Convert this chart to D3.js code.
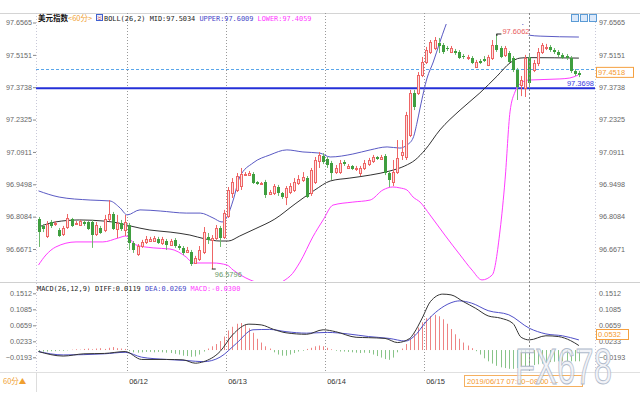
<!DOCTYPE html>
<html><head><meta charset="utf-8">
<script src="https://cdn.jsdelivr.net/npm/d3@7/dist/d3.min.js"></script>
<style>
html,body{margin:0;padding:0;background:#fff;}
svg{display:block;}
.ax text{font-family:"Liberation Sans",Arial,sans-serif;font-size:7.2px;fill:#666;}
.ax path{display:none;}
.ax line{stroke:#888;}
</style></head><body>
<svg id="chart" width="640" height="400"></svg>
<script>
// ---------- data ----------
const dates = ["06/12","06/13","06/14","06/15"];
const dayBreaks = [21.5,45.5,69.5,93.5];
const priceTicks = [96.6671,96.8084,96.9498,97.0911,97.2325,97.3738,97.5151,97.6565];
const macdTicks = [-0.0193,0.0233,0.0659,0.1085,0.1512];

const opens = [96.798,96.768,96.724,96.785,96.776,96.750,96.733,96.763,96.798,96.776,
96.772,96.785,96.785,96.785,96.733,96.759,96.750,96.798,96.820,96.755,
96.781,96.750,96.772,96.693,96.645,96.680,96.698,96.702,96.702,96.711,
96.693,96.702,96.685,96.707,96.680,96.672,96.654,96.654,96.606,96.623,
96.654,96.720,96.707,96.715,96.759,96.720,96.811,96.912,96.925,96.942,
96.990,96.990,96.995,96.960,96.951,96.960,96.907,96.912,96.938,96.912,
96.894,96.916,96.925,96.955,96.969,96.977,96.912,96.960,97.052,97.073,
97.060,97.043,97.003,97.003,97.047,97.021,97.030,97.017,96.999,97.021,
97.038,97.052,97.069,97.060,97.073,96.999,96.960,97.003,97.078,97.069,
97.165,97.349,97.349,97.427,97.484,97.528,97.545,97.567,97.558,97.545,
97.528,97.532,97.528,97.510,97.501,97.501,97.462,97.488,97.497,97.471,
97.501,97.558,97.545,97.515,97.523,97.501,97.449,97.384,97.370,97.506,
97.449,97.480,97.528,97.545,97.550,97.536,97.528,97.515,97.510,97.501,97.445,97.436];
const highs = [96.807,96.776,96.789,96.794,96.789,96.759,96.768,96.820,96.803,96.789,
96.794,96.794,96.789,96.794,96.785,96.768,96.816,96.881,96.829,96.816,
96.794,96.816,96.781,96.702,96.689,96.707,96.724,96.720,96.724,96.720,
96.720,96.711,96.711,96.715,96.689,96.680,96.676,96.663,96.637,96.680,
96.763,96.737,96.728,96.772,96.768,96.838,96.938,96.977,96.999,97.021,
97.003,97.008,97.003,96.964,96.960,96.969,96.925,96.951,96.947,96.916,
96.942,96.955,96.977,96.990,97.003,96.986,97.021,97.069,97.091,97.086,
97.069,97.052,97.034,97.056,97.056,97.038,97.034,97.030,97.030,97.056,
97.065,97.078,97.073,97.078,97.082,97.008,97.056,97.143,97.143,97.266,
97.362,97.362,97.440,97.506,97.550,97.580,97.593,97.589,97.567,97.554,
97.554,97.541,97.536,97.519,97.515,97.510,97.493,97.497,97.510,97.515,
97.580,97.6062,97.554,97.554,97.532,97.510,97.458,97.423,97.515,97.515,
97.493,97.545,97.567,97.563,97.558,97.545,97.536,97.523,97.519,97.510,97.453,97.445];
const lows = [96.676,96.741,96.715,96.759,96.768,96.720,96.724,96.755,96.763,96.772,
96.768,96.768,96.750,96.672,96.724,96.733,96.741,96.789,96.750,96.715,
96.746,96.724,96.663,96.650,96.637,96.672,96.689,96.698,96.698,96.689,
96.685,96.663,96.680,96.672,96.663,96.641,96.650,96.593,96.602,96.615,
96.645,96.689,96.5796,96.707,96.676,96.711,96.803,96.890,96.916,96.925,
96.986,96.986,96.951,96.947,96.947,96.890,96.903,96.903,96.899,96.886,
96.859,96.907,96.916,96.947,96.960,96.890,96.899,96.951,97.021,97.038,
97.021,96.969,96.995,96.995,97.030,97.017,97.012,97.008,96.986,97.012,
97.030,97.043,97.056,97.056,96.990,96.938,96.942,96.995,97.056,97.056,
97.156,97.274,97.340,97.418,97.475,97.519,97.536,97.523,97.519,97.532,
97.523,97.515,97.497,97.497,97.493,97.475,97.458,97.475,97.484,97.466,
97.493,97.528,97.501,97.506,97.480,97.440,97.318,97.335,97.331,97.370,
97.440,97.466,97.519,97.536,97.528,97.519,97.506,97.497,97.493,97.436,97.423,97.418];
const closes = [96.741,96.755,96.776,96.768,96.781,96.724,96.759,96.803,96.768,96.781,
96.789,96.776,96.755,96.728,96.772,96.737,96.798,96.820,96.755,96.781,
96.755,96.785,96.693,96.663,96.680,96.698,96.711,96.711,96.715,96.693,
96.711,96.685,96.702,96.680,96.672,96.650,96.663,96.602,96.628,96.663,
96.741,96.707,96.715,96.759,96.715,96.824,96.925,96.960,96.986,96.995,
96.995,96.999,96.955,96.951,96.955,96.903,96.916,96.942,96.912,96.894,
96.934,96.942,96.960,96.973,96.982,96.894,97.012,97.056,97.078,97.047,
97.034,96.999,97.021,97.043,97.038,97.030,97.017,97.021,97.021,97.043,
97.056,97.069,97.060,97.069,96.999,96.969,97.003,97.065,97.091,97.252,
97.349,97.287,97.427,97.484,97.536,97.571,97.580,97.554,97.528,97.541,
97.545,97.523,97.501,97.506,97.506,97.480,97.484,97.480,97.488,97.506,
97.558,97.536,97.506,97.545,97.484,97.449,97.375,97.405,97.501,97.392,
97.480,97.528,97.558,97.550,97.536,97.528,97.515,97.501,97.501,97.445,97.432,97.427];

// Bollinger bands, read as [candle index, value]
const upperBand = [[0,96.921],[5,96.894],[12.5,96.881],[17.3,96.877],[19.8,96.846],[21.5,96.816],[24.6,96.838],[29.5,96.833],[35.8,96.824],[39.2,96.824],[42.3,96.803],[44.5,96.785],[45.7,96.807],[47.2,96.881],[48.8,96.982],[52,97.043],[56.1,97.078],[60.2,97.100],[64.1,97.091],[68.2,97.086],[70.7,97.069],[76.2,97.082],[80.4,97.100],[84.5,97.113],[87.6,97.108],[89.3,97.121],[90.8,97.152],[91.8,97.222],[92.5,97.283],[94.2,97.414],[95.7,97.484],[97.3,97.571],[98.5,97.633],[100,97.700],[104,97.760],[110,97.780],[114,97.760],[116.5,97.700],[118,97.619],[119,97.601],[121.6,97.597],[131,97.593]];
const midBand = [[0,96.763],[4,96.785],[10,96.794],[16,96.789],[19.3,96.781],[22.2,96.768],[27,96.750],[31.9,96.741],[36.7,96.728],[40.4,96.711],[44,96.702],[46,96.702],[48.8,96.724],[52.5,96.755],[57.3,96.798],[62.2,96.864],[67,96.925],[70.7,96.964],[75.5,96.977],[80.4,96.990],[85.2,97.008],[88.8,97.030],[91.3,97.056],[93.7,97.100],[97.3,97.187],[102.2,97.274],[107,97.349],[111.2,97.423],[114.3,97.480],[116.7,97.501],[119,97.503],[131,97.501]];
const lowerBand = [[0,96.597],[1.8,96.641],[4.2,96.676],[9.1,96.698],[15.6,96.698],[19.3,96.715],[21.2,96.724],[23.6,96.685],[27.8,96.672],[31.9,96.667],[35.8,96.632],[37.5,96.606],[42.3,96.606],[45.7,96.597],[47.2,96.575],[51.3,96.532],[56.1,96.510],[61,96.549],[63.4,96.610],[66.5,96.720],[69,96.794],[71.4,96.859],[76.2,96.872],[80.4,96.881],[83.5,96.925],[85.9,96.938],[87.6,96.934],[89.3,96.925],[90.8,96.894],[92.5,96.872],[94.9,96.816],[98.5,96.728],[102.2,96.641],[105.1,96.575],[107.5,96.532],[110,96.554],[111.9,96.750],[113.1,96.969],[114.3,97.266],[115.5,97.353],[116.7,97.388],[118.7,97.405],[126.4,97.410],[128.8,97.414],[130.8,97.427]];

// MACD
const diffLine = [[0,-0.004],[6,-0.016],[11,-0.010],[16,-0.009],[21,-0.004],[25,-0.025],[31,-0.025],[35,-0.026],[38,-0.035],[40,-0.031],[44,-0.004],[47,0.040],[51,0.069],[54,0.067],[57,0.055],[60,0.046],[65,0.042],[69,0.054],[72,0.049],[77,0.034],[80,0.033],[84,0.031],[87,0.020],[90,0.031],[91,0.045],[93,0.085],[95,0.129],[98,0.149],[100,0.147],[103,0.129],[106,0.111],[109,0.091],[112,0.085],[115,0.071],[117,0.034],[119,0.027],[123,0.038],[126,0.036],[129,0.025],[131,0.012]];
const deaLine = [[0,-0.004],[6,-0.013],[16,-0.010],[21,-0.006],[25,-0.019],[31,-0.025],[36,-0.028],[40,-0.031],[44,-0.019],[48,0.018],[52,0.054],[56,0.055],[60,0.049],[65,0.045],[70,0.047],[75,0.043],[80,0.036],[85,0.031],[89,0.024],[91,0.036],[94,0.076],[97,0.107],[100,0.126],[102,0.131],[105,0.125],[109,0.105],[114,0.094],[119,0.058],[123,0.043],[127,0.038],[131,0.027]];
const macdHist = [-0.003,-0.004,-0.004,-0.003,-0.003,-0.002,
-0.002,-0.001,0.001,0.002,0.001,
0.003,0.004,0.002,0.004,0.005,0.003,
0.006,0.008,0.005,0.004,0.003,
-0.003,-0.006,-0.007,
-0.006,-0.005,-0.005,-0.006,-0.005,-0.006,
-0.007,-0.008,-0.010,-0.012,-0.015,-0.016,
-0.018,-0.017,-0.012,-0.004,
0.004,0.010,0.016,0.024,
0.036,0.052,0.062,0.070,0.072,0.068,
0.058,0.046,0.030,0.020,0.010,0.004,
-0.006,-0.012,-0.015,-0.015,-0.012,-0.008,
-0.004,-0.002,0.003,0.006,
0.010,0.012,0.010,0.006,
0.002,-0.002,-0.004,-0.004,-0.005,
-0.006,-0.007,-0.008,-0.007,-0.008,
-0.012,-0.016,-0.020,-0.024,-0.026,-0.020,
-0.006,0.004,0.016,0.030,
0.044,0.060,0.074,0.085,
0.090,0.094,0.090,0.082,
0.070,0.056,0.042,0.030,
0.020,0.012,0.005,-0.003,
-0.012,-0.022,-0.030,-0.036,-0.042,-0.046,
-0.048,-0.050,-0.050,-0.048,-0.046,-0.044,
-0.042,-0.040,-0.038,-0.036,-0.034,-0.032,
-0.031,-0.030,-0.030,-0.030,-0.030,-0.030,-0.030];

const crossIndex = 119, crossPrice = 97.4518, hLinePrice = 97.3698;
const highMark = {i:111, v:97.6062}, lowMark = {i:42, v:96.5796};

// ---------- layout ----------
const svg = d3.select("#chart");
const L = 36, R = 595, MT = 13, MB = 281, PT = 283, PB = 372, CLIPTOP = 24;
const x = d3.scaleLinear().domain([0,131]).range([38.5,578.9]);
const y = d3.scaleLinear().domain([96.6671,97.6565]).range([249,22.5]);
const ym = d3.scaleLinear().domain([-0.0193,0.1512]).range([357.3,293.3]);
const px = v => Math.round(v)+0.5;

const UPC = "#ee6565", UPF = "#fde0e0", DNC = "#3f9e3f";
const mono = "'DejaVu Sans Mono',monospace";
const sans = "'Liberation Sans',Arial,sans-serif";
const cjk = "'Noto Sans CJK SC','Noto Sans',sans-serif";

const defs = svg.append("defs");
defs.append("clipPath").attr("id","cm").append("rect").attr("x",L).attr("y",CLIPTOP).attr("width",R-L).attr("height",MB-CLIPTOP);
defs.append("clipPath").attr("id","cp").append("rect").attr("x",L).attr("y",PT).attr("width",R-L).attr("height",PB-PT);

// frame lines
svg.append("line").attr("x1",0).attr("x2",640).attr("y1",13.5).attr("y2",13.5).attr("stroke","#d4d4d4");
svg.append("line").attr("x1",0).attr("x2",640).attr("y1",282.5).attr("y2",282.5).attr("stroke","#d0d0d0");
svg.append("line").attr("x1",0).attr("x2",640).attr("y1",372.5).attr("y2",372.5).attr("stroke","#e0e0e0");
[L,R].forEach(v=>svg.append("line").attr("x1",px(v)).attr("x2",px(v)).attr("y1",MT).attr("y2",PB)
  .attr("stroke","#c8c8d8").attr("stroke-dasharray","1,2"));
svg.append("line").attr("x1",px(L)).attr("x2",px(L)).attr("y1",PB).attr("y2",392).attr("stroke","#ddd");

// day separators
dayBreaks.forEach((b,k)=>{
  svg.append("line").attr("x1",px(x(b))).attr("x2",px(x(b))).attr("y1",MT).attr("y2",PB)
    .attr("stroke","#999").attr("stroke-dasharray","1,2");
  svg.append("text").attr("x",x(b)+2).attr("y",384).text(dates[k])
    .attr("font-family",sans).attr("font-size","7.5px").attr("fill","#333");
});

// axes
svg.append("g").attr("class","ax").attr("transform",`translate(${L},0)`)
  .call(d3.axisLeft(y).tickValues(priceTicks).tickSize(3).tickPadding(1).tickFormat(d3.format(".4f")));
svg.append("g").attr("class","ax").attr("transform",`translate(${R},0)`)
  .call(d3.axisRight(y).tickValues(priceTicks).tickSize(0).tickPadding(4).tickFormat(d3.format(".4f")));
svg.append("g").attr("class","ax").attr("transform",`translate(${L},0)`)
  .call(d3.axisLeft(ym).tickValues(macdTicks).tickSize(3).tickPadding(1).tickFormat(d3.format(".4f")));
svg.append("g").attr("class","ax").attr("transform",`translate(${R},0)`)
  .call(d3.axisRight(ym).tickValues(macdTicks).tickSize(0).tickPadding(4).tickFormat(d3.format(".4f")));

// crosshair horizontal & price line
svg.append("line").attr("x1",L).attr("x2",R).attr("y1",px(y(crossPrice))).attr("y2",px(y(crossPrice)))
  .attr("stroke","#5aa6ea").attr("stroke-dasharray","3,2");
svg.append("line").attr("x1",L).attr("x2",R).attr("y1",y(hLinePrice)).attr("y2",y(hLinePrice))
  .attr("stroke","#2430d8").attr("stroke-width",2);
svg.append("text").attr("x",R-1).attr("y",y(hLinePrice)-2).attr("text-anchor","end").text(hLinePrice.toFixed(4))
  .attr("font-family",sans).attr("font-size","7.5px").attr("fill","#3a3ae0");

// bands
const gm = svg.append("g").attr("clip-path","url(#cm)");
const bl = d3.line().x(d=>x(d[0])).y(d=>y(d[1])).curve(d3.curveMonotoneX);
[[upperBand,"#5a5ac4"],[midBand,"#333"],[lowerBand,"#ff3cff"]].forEach(([d,c])=>
  gm.append("path").datum(d).attr("d",bl).attr("fill","none").attr("stroke",c).attr("stroke-width",1));

// high label (white backed, drawn over the bands)
const hx = x(highMark.i), hy = y(highMark.v);
svg.append("rect").attr("x",hx+5).attr("y",hy-9).attr("width",28).attr("height",10).attr("fill","#fff");

// candles
const candles = d3.range(closes.length).map(i=>({i,o:opens[i],h:highs[i],l:lows[i],c:closes[i]}));
const gk = svg.append("g").selectAll("g").data(candles).join("g");
gk.each(function(d){
  const g = d3.select(this);
  const cx = px(x(d.i));
  const up = d.c >= d.o;
  const t = Math.round(y(Math.max(d.o,d.c))), b = Math.round(y(Math.min(d.o,d.c)));
  if(up){
    g.append("line").attr("x1",cx).attr("x2",cx).attr("y1",y(d.h)).attr("y2",t).attr("stroke",UPC);
    g.append("line").attr("x1",cx).attr("x2",cx).attr("y1",b).attr("y2",y(d.l)).attr("stroke",UPC);
    g.append("rect").attr("x",cx-1).attr("width",2).attr("y",t+0.5).attr("height",Math.max(b-t,0.5))
      .attr("fill",UPF).attr("stroke",UPC);
  } else {
    g.append("line").attr("x1",cx).attr("x2",cx).attr("y1",y(d.h)).attr("y2",y(d.l)).attr("stroke","#6cb96c");
    g.append("rect").attr("x",cx-1.5).attr("width",3).attr("y",t).attr("height",Math.max(b-t,1)).attr("fill",DNC);
  }
});

// high / low markers
svg.append("path").attr("d",`M${hx},${hy}H${hx+5}M${hx+0.5},${hy}v2`).attr("stroke","#222").attr("fill","none");
svg.append("text").attr("x",hx+6).attr("y",hy-0.5).text(highMark.v.toFixed(4))
  .attr("font-family",sans).attr("font-size","7.5px").attr("fill","#e86060");
const lx = x(lowMark.i), ly = y(lowMark.v);
svg.append("path").attr("d",`M${lx},${ly}H${lx+4}`).attr("stroke","#222").attr("fill","none");
svg.append("text").attr("x",lx+3).attr("y",ly+8).text(lowMark.v.toFixed(4))
  .attr("font-family",sans).attr("font-size","7.5px").attr("fill","#6a9a6a");

// MACD panel
const gp = svg.append("g").attr("clip-path","url(#cp)");
gp.selectAll("line").data(macdHist).join("line")
  .attr("x1",(d,i)=>px(x(i))).attr("x2",(d,i)=>px(x(i)))
  .attr("y1",ym(0)).attr("y2",d=>ym(d))
  .attr("stroke",d=>d>=0?"#ee8484":"#88c488");
const ml = d3.line().x(d=>x(d[0])).y(d=>ym(d[1])).curve(d3.curveMonotoneX);
gp.append("path").datum(deaLine).attr("d",ml).attr("fill","none").attr("stroke","#5050c8");
gp.append("path").datum(diffLine).attr("d",ml).attr("fill","none").attr("stroke","#333");

// crosshair vertical
svg.append("line").attr("x1",px(x(crossIndex))).attr("x2",px(x(crossIndex))).attr("y1",MT).attr("y2",PB)
  .attr("stroke","#888").attr("stroke-dasharray","2,2");

// right-side value boxes
function box(xx,yy,w,txt){
  svg.append("rect").attr("x",xx+0.5).attr("y",yy-5).attr("width",w).attr("height",10).attr("fill","#fff").attr("stroke","#f5a040");
  svg.append("text").attr("x",xx+2).attr("y",yy+2.6).text(txt).attr("font-family",sans).attr("font-size","7.5px").attr("fill","#f59a30");
}
box(596,y(crossPrice)+3,37,crossPrice.toFixed(4));
box(596,334.5,32,"0.0532");

// title rows
const t1 = svg.append("text").attr("y",20.5);
t1.append("tspan").attr("x",38).attr("font-family",cjk).attr("font-weight","bold").attr("font-size","7.5px").attr("fill","#111").text("美元指数");
t1.append("tspan").attr("font-family",cjk).attr("font-size","7.5px").attr("fill","#f0a030").text("<60分>");
svg.append("rect").attr("x",96.5).attr("y",14.5).attr("width",6).attr("height",6).attr("fill","#e8eefc").attr("stroke","#4060d0");
svg.append("path").attr("d","M98,16.5l1.5,1.5l1.5,-1.5M98,18.5l1.5,1.5l1.5,-1.5").attr("stroke","#d03030").attr("fill","none").attr("stroke-width",0.7);
const t2 = svg.append("text").attr("x",104).attr("y",20.5).attr("font-family",mono).attr("font-size","6.9px").attr("xml:space","preserve");
t2.append("tspan").attr("fill","#222").text("BOLL(26,2) MID:97.5034 ");
t2.append("tspan").attr("fill","#4646c8").text("UPPER:97.6009 ");
t2.append("tspan").attr("fill","#ff3cff").text("LOWER:97.4059");

const t3 = svg.append("text").attr("x",37).attr("y",291).attr("font-family",mono).attr("font-size","6.9px").attr("xml:space","preserve");
t3.append("tspan").attr("fill","#222").text("MACD(26,12,9) DIFF:0.0119 ");
t3.append("tspan").attr("fill","#4646c8").text("DEA:0.0269 ");
t3.append("tspan").attr("fill","#ff3cff").text("MACD:-0.0300");

// top-right tool icons
[571,580,589].forEach(v=>svg.append("rect").attr("x",v+0.5).attr("y",14.5).attr("width",7).attr("height",7).attr("fill","#dbe9fb").attr("stroke","#5b9bd5"));

// bottom bar
svg.append("text").attr("x",3).attr("y",384).attr("font-family",cjk).attr("font-size","7.5px").attr("fill","#f0a030").text("60分▲");
svg.append("rect").attr("x",464.5).attr("y",375.5).attr("width",118).attr("height",11).attr("fill","#fff").attr("stroke","#f5b060");
svg.append("text").attr("x",467).attr("y",384).attr("font-family",sans).attr("font-size","7.5px").attr("fill","#f59a30").text("2019/06/17 07:00~08:00 —");

// watermark
svg.append("text").attr("x",515).attr("y",384).text("FX678").attr("font-family",sans).attr("font-size","50px")
  .attr("textLength",97).attr("lengthAdjust","spacingAndGlyphs")
  .attr("fill","#eef0f6").attr("fill-opacity",0.75).attr("stroke","#b0bacb").attr("stroke-width",1);
</script>
</body></html>
